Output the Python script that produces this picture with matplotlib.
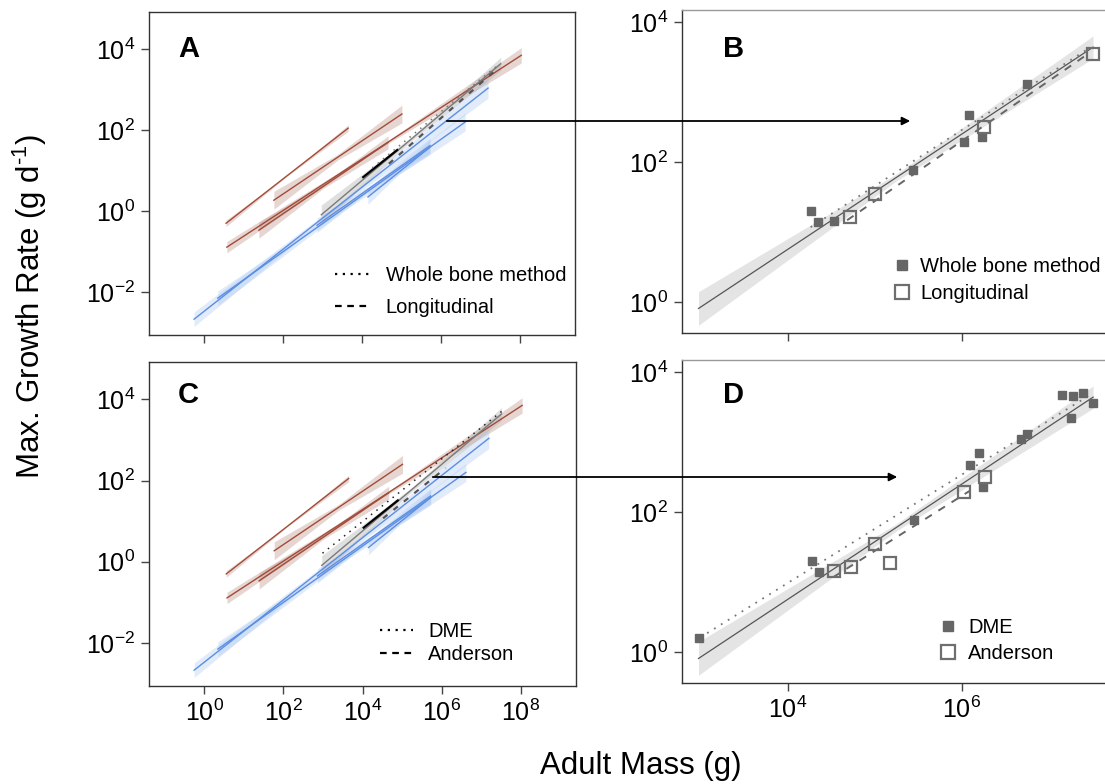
import numpy as np
import matplotlib
matplotlib.use("Agg")
import matplotlib.pyplot as plt
from matplotlib.lines import Line2D
from matplotlib.patches import FancyArrowPatch
from matplotlib.ticker import FixedLocator, NullLocator

plt.rcParams['font.family'] = ['Liberation Sans', 'DejaVu Sans']
plt.rcParams['mathtext.fontset'] = 'custom'
plt.rcParams['mathtext.rm'] = 'Liberation Sans'
plt.rcParams['mathtext.it'] = 'Liberation Sans:italic'
plt.rcParams['mathtext.bf'] = 'Liberation Sans:bold'

# ---- published scaling lines (log10 mass / log10 rate at each end, CI half widths in decades)
red_x0 = [0.56, 1.77, 0.58, 1.39]
red_x1 = [3.65, 5.01, 8.03, 4.66]
red_y0 = [-0.30, 0.27, -0.89, -0.47]
red_y1 = [2.05, 2.40, 3.85, 1.70]
red_ci_lo = [0.08, 0.22, 0.14, 0.20]
red_ci_mid = [0.01, 0.07, 0.02, 0.05]
red_ci_hi = [0.08, 0.22, 0.19, 0.16]

blue_x0 = [-0.25, 0.35, 2.86, 4.15]
blue_x1 = [7.19, 6.61, 5.72, 5.72]
blue_y0 = [-2.67, -2.15, -0.35, 0.35]
blue_y1 = [3.04, 2.20, 1.62, 1.58]
blue_ci_lo = [0.18, 0.18, 0.18, 0.18]
blue_ci_mid = [0.05, 0.05, 0.05, 0.05]
blue_ci_hi = [0.25, 0.22, 0.18, 0.18]

# short black reference segment
blk_x = [4.03, 4.89]
blk_y = [0.84, 1.51]

# ---- fits for the dinosaur data (log10 values)
all_x = [2.97, 7.51]
all_y = [-0.09, 3.64]
all_ci = [0.24, 0.05, 0.16]

wb_fit_x = [4.26, 7.47]
wb_fit_y = [1.07, 3.63]
long_fit_x = [4.68, 7.47]
long_fit_y = [1.17, 3.56]
dme_fit_x = [2.99, 7.51]
dme_fit_y = [0.21, 3.70]
and_fit_x = [4.52, 6.10]
and_fit_y = [1.07, 2.31]

# ---- individual taxa (g, g/day)
wb_mass = [1.82e4, 2.24e4, 3.39e4, 2.75e5, 1.07e6, 1.20e6, 1.70e6, 5.6e6]
wb_rate = [20.0, 13.8, 14.5, 77.6, 195, 468, 229, 1290]
long_mass = [5.13e4, 1.0e5, 1.82e6, 3.24e7]
long_rate = [16.2, 34.7, 316, 3470]

dme_mass = [933, 1.9e4, 2.29e4, 2.82e5, 1.23e6, 1.58e6, 1.74e6, 4.8e6, 5.6e6,
            1.41e7, 1.9e7, 2.45e7, 1.82e7, 3.24e7]
dme_rate = [1.58, 20.0, 13.8, 77.6, 468, 692, 229, 1100, 1290,
            4680, 4570, 5010, 2190, 3630]
and_mass = [3.39e4, 5.25e4, 1.0e5, 1.48e5, 1.07e6, 1.86e6]
and_rate = [14.5, 16.2, 34.7, 18.6, 195, 316]

W, H = 1105, 784
fig = plt.figure(figsize=(W / 100, H / 100), dpi=100)


def px_axes(left, top, right, bottom):
    return fig.add_axes([left / W, 1 - bottom / H, (right - left) / W, (bottom - top) / H])


axA = px_axes(149, 12, 575, 335)
axC = px_axes(149, 362, 576, 686)
axB = px_axes(682, 10, 1107, 333)
axD = px_axes(682, 360, 1107, 683)


def band(ax, x, y, ci, color, alpha):
    # bow-tie confidence band: width at low end, middle and high end
    xm = (x[0] + x[1]) / 2
    ym = (y[0] + y[1]) / 2
    bx = [x[0], xm, x[1]]
    by = [y[0], ym, y[1]]
    lo = [b - c for b, c in zip(by, ci)]
    hi = [b + c for b, c in zip(by, ci)]
    ax.fill_between([10 ** v for v in bx], [10 ** v for v in lo], [10 ** v for v in hi],
                    color=color, alpha=alpha, lw=0)


def line(ax, x, y, **kw):
    ax.plot([10 ** v for v in x], [10 ** v for v in y], **kw)


def overview(ax, fit1, fit2, dot_color):
    for i in range(len(red_x0)):
        band(ax, [red_x0[i], red_x1[i]], [red_y0[i], red_y1[i]],
             [red_ci_lo[i], red_ci_mid[i], red_ci_hi[i]], '#b98a80', 0.35)
    for i in range(len(blue_x0)):
        band(ax, [blue_x0[i], blue_x1[i]], [blue_y0[i], blue_y1[i]],
             [blue_ci_lo[i], blue_ci_mid[i], blue_ci_hi[i]], '#a9c6f2', 0.35)
    band(ax, all_x, all_y, all_ci, '#b0b0b0', 0.4)
    for i in range(len(red_x0)):
        line(ax, [red_x0[i], red_x1[i]], [red_y0[i], red_y1[i]], color='#a24b38', lw=1.0)
    for i in range(len(blue_x0)):
        line(ax, [blue_x0[i], blue_x1[i]], [blue_y0[i], blue_y1[i]], color='#5b8ee3', lw=1.0)
    line(ax, all_x, all_y, color='#7a7a7a', lw=1.0)
    line(ax, blk_x, blk_y, color='black', lw=1.6)
    line(ax, fit1[0], fit1[1], color=dot_color, lw=1.1, ls=(0, (1, 3.5)))
    line(ax, fit2[0], fit2[1], color='#555555', lw=1.6, ls=(0, (2.5, 3.5)))


overview(axA, (wb_fit_x, wb_fit_y), (long_fit_x, long_fit_y), '#777777')
overview(axC, (dme_fit_x, dme_fit_y), (and_fit_x, and_fit_y), '#222222')


def detail(ax, fit1, fit2, m1, r1, m2, r2):
    band(ax, all_x, all_y, all_ci, '#dcdcdc', 0.75)
    line(ax, all_x, all_y, color='#555555', lw=0.9)
    line(ax, fit1[0], fit1[1], color='#777777', lw=1.3, ls=(0, (1, 3.5)))
    line(ax, fit2[0], fit2[1], color='#666666', lw=1.4, ls=(0, (4, 4)))
    ax.plot(m1, r1, ls='none', marker='s', ms=6, color='#666666', mec='#666666')
    ax.plot(m2, r2, ls='none', marker='s', ms=8, mfc='none', mec='#6e6e6e', mew=1.6)


detail(axB, (wb_fit_x, wb_fit_y), (long_fit_x, long_fit_y), wb_mass, wb_rate, long_mass, long_rate)
detail(axD, (dme_fit_x, dme_fit_y), (and_fit_x, and_fit_y), dme_mass, dme_rate, and_mass, and_rate)

for ax in (axA, axC):
    ax.set_xscale('log')
    ax.set_yscale('log')
    ax.set_xlim(10 ** -1.39, 10 ** 9.39)
    ax.set_ylim(10 ** -3.06, 10 ** 4.92)
    ax.xaxis.set_major_locator(FixedLocator([1, 1e2, 1e4, 1e6, 1e8]))
    ax.yaxis.set_major_locator(FixedLocator([1e-2, 1, 1e2, 1e4]))

for ax in (axB, axD):
    ax.set_xscale('log')
    ax.set_yscale('log')
    ax.set_xlim(10 ** 2.78, 10 ** 7.67)
    ax.set_ylim(10 ** -0.44, 10 ** 4.17)
    ax.xaxis.set_major_locator(FixedLocator([1e4, 1e6]))
    ax.yaxis.set_major_locator(FixedLocator([1, 1e2, 1e4]))

for ax in (axA, axB, axC, axD):
    ax.xaxis.set_minor_locator(NullLocator())
    ax.yaxis.set_minor_locator(NullLocator())
    ax.tick_params(direction='out', length=6, width=1, color='#444444',
                   labelsize=18, pad=4)
    for s in ax.spines.values():
        s.set_color('#333333')
        s.set_linewidth(1.0)
for ax in (axB, axD):
    ax.spines['top'].set_color('#999999')

axA.tick_params(axis='x', labelbottom=False)
axB.tick_params(axis='x', labelbottom=False)

# panel letters
for ax, letter in ((axA, 'A'), (axB, 'B'), (axC, 'C'), (axD, 'D')):
    x0 = 178 if ax in (axA, axC) else 723
    y0 = 57 if ax in (axA, axB) else 403
    fig.text(x0 / W, 1 - y0 / H, letter, fontsize=21, fontweight='bold', ha='left', va='baseline')

# legends
lh = [Line2D([], [], color='black', ls=(0, (1, 2.5)), lw=1.6),
      Line2D([], [], color='black', ls=(0, (3, 2.5)), lw=1.6)]
axA.legend(lh, ['Whole bone method', 'Longitudinal'], loc='upper left',
           bbox_to_anchor=(0.437, 0.214), frameon=False, fontsize=14.5,
           handlelength=1.8, handletextpad=0.7, labelspacing=0.65,
           borderpad=0, borderaxespad=0)
axC.legend(lh, ['DME', 'Anderson'], loc='upper left',
           bbox_to_anchor=(0.541, 0.198), frameon=False, fontsize=14.5,
           handlelength=1.65, handletextpad=0.75, labelspacing=0.2,
           borderpad=0, borderaxespad=0)

mh = [Line2D([], [], ls='none', marker='s', ms=7, color='#666666'),
      Line2D([], [], ls='none', marker='s', ms=10, mfc='none', mec='#6e6e6e', mew=1.6)]
axB.legend(mh, ['Whole bone method', 'Longitudinal'], loc='upper left',
           bbox_to_anchor=(0.499, 0.235), frameon=False, fontsize=14.5,
           handlelength=0.8, handletextpad=0.5, labelspacing=0.4,
           borderpad=0, borderaxespad=0)
axD.legend(mh, ['DME', 'Anderson'], loc='upper left',
           bbox_to_anchor=(0.607, 0.201), frameon=False, fontsize=14.5,
           handlelength=0.8, handletextpad=0.6, labelspacing=0.35,
           borderpad=0, borderaxespad=0)

# arrows linking the overview panels to the close-ups
for y0, x0, x1 in ((121, 444, 913), (477, 430, 900)):
    fig.add_artist(FancyArrowPatch((x0 / W, 1 - y0 / H), (x1 / W, 1 - y0 / H),
                                   transform=fig.transFigure, arrowstyle='-|>',
                                   mutation_scale=12, lw=1.3, color='black'))

fig.text(30 / W, 1 - 306 / H, r'Max. Growth Rate (g d$^{\text{-}1}$)', rotation=90,
         fontsize=22.5, ha='center', va='center')
fig.text(641 / W, 1 - 766 / H, 'Adult Mass (g)', fontsize=22.5, ha='center', va='center')

fig.savefig('out.png', dpi=100)
